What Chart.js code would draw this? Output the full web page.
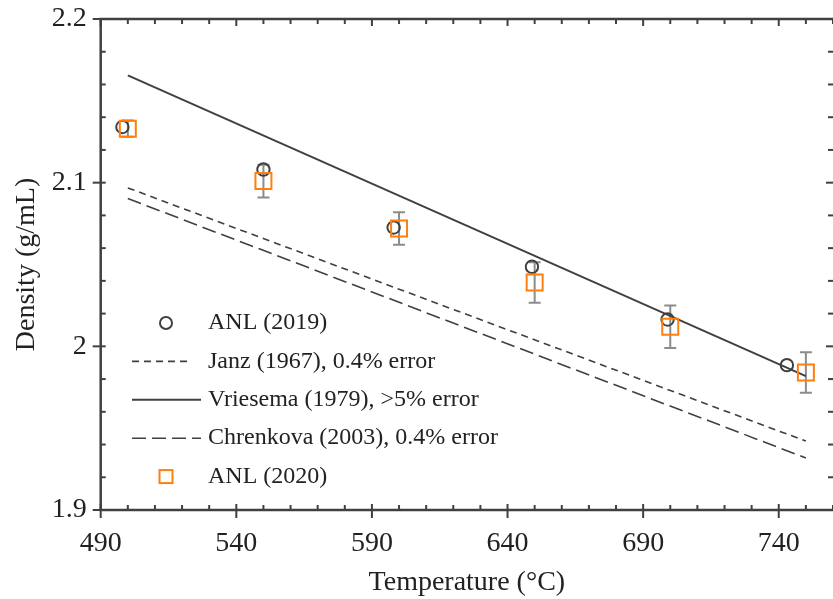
<!DOCTYPE html>
<html>
<head>
<meta charset="utf-8">
<script src="https://cdn.jsdelivr.net/npm/chart.js@4.4.0/dist/chart.umd.min.js"></script>
<style>
  html, body { margin: 0; padding: 0; background: #fff; overflow: hidden; }
  #wrap { width: 833px; height: 599px; }
  #densityChart { display: block; width: 833px; height: 599px; }
</style>
</head>
<body>
<div id="wrap"><canvas id="densityChart" width="833" height="599"></canvas></div>
<script>
// ANL (2019)
const anl2019Temp = [498, 550, 598, 649, 699, 743];
const anl2019Density = [2.134, 2.108, 2.0726, 2.0486, 2.0164, 1.9885];

// ANL (2020), mit Fehlerbalken
const anl2020Temp = [500, 550, 600, 650, 700, 750];
const anl2020Density = [2.133, 2.101, 2.072, 2.039, 2.012, 1.984];
const anl2020Error = [0.005, 0.010, 0.010, 0.0124, 0.013, 0.0124];

// Literatur-Korrelationen (Endpunkte)
const corrTemp = [500, 750];
const janzDensity = [2.0968, 1.9421];
const vriesemaDensity = [2.1656, 1.9818];
const chrenkovaDensity = [2.0903, 1.9318];

const xTicks = [490, 540, 590, 640, 690, 740];
const yTicks = [1.9, 2.0, 2.1, 2.2];

const fontFamily = "'Liberation Serif', 'Times New Roman', serif";
const axisColor = "#404040";
const textColor = "#222222";
const orange = "#ff7f0e";

function toPoints(xs, ys) {
    return xs.map((x, i) => ({ x: x, y: ys[i] }));
}

// Rahmen (ohne rechte Linie, die liegt außerhalb des Bildes) und Tick-Striche
const frameAndTicks = {
    id: "frameAndTicks",
    afterDraw(chart) {
        const { ctx, chartArea: a, scales: { x, y } } = chart;
        ctx.save();
        ctx.strokeStyle = axisColor;
        ctx.lineWidth = 2;
        const seg = (x1, y1, x2, y2) => {
            ctx.beginPath();
            ctx.moveTo(x1, y1);
            ctx.lineTo(x2, y2);
            ctx.stroke();
        };
        for (let v = 490; v <= 760; v += 10) {
            const px = x.getPixelForValue(v);
            const major = xTicks.includes(v);
            seg(px, a.bottom + (major ? 8 : 0), px, a.bottom - (major ? 6 : 5));
            seg(px, a.top, px, a.top + (major ? 7 : 5));
        }
        for (let i = 0; i <= 15; i++) {
            const v = 1.9 + i * 0.02;
            const py = y.getPixelForValue(v);
            const major = i % 5 === 0;
            seg(a.left - (major ? 8 : 0), py, a.left + 5, py);
            seg(a.right, py, a.right - (major ? 7 : 5), py);
        }
        ctx.lineWidth = 2.5;
        ctx.beginPath();
        ctx.moveTo(a.right + 2, a.top);
        ctx.lineTo(a.left, a.top);
        ctx.lineTo(a.left, a.bottom);
        ctx.lineTo(a.right + 2, a.bottom);
        ctx.stroke();
        ctx.restore();
    }
};

// Fehlerbalken für ANL (2020)
const errorBars = {
    id: "errorBars",
    beforeDatasetsDraw(chart) {
        const { ctx, scales: { x, y } } = chart;
        ctx.save();
        ctx.strokeStyle = "#8c8c8c";
        ctx.lineWidth = 2;
        anl2020Temp.forEach((t, i) => {
            const px = x.getPixelForValue(t);
            const top = y.getPixelForValue(anl2020Density[i] + anl2020Error[i]);
            const bot = y.getPixelForValue(anl2020Density[i] - anl2020Error[i]);
            ctx.beginPath();
            ctx.moveTo(px, top); ctx.lineTo(px, bot);
            ctx.moveTo(px - 6, top); ctx.lineTo(px + 6, top);
            ctx.moveTo(px - 6, bot); ctx.lineTo(px + 6, bot);
            ctx.stroke();
        });
        ctx.restore();
    }
};

// Legende innerhalb des Diagramms
const innerLegend = {
    id: "innerLegend",
    afterDraw(chart) {
        const { ctx } = chart;
        const items = [
            { text: "ANL (2019)", kind: "circle" },
            { text: "Janz (1967), 0.4% error", kind: "line", dash: [7, 5], len: 60, width: 1.6 },
            { text: "Vriesema (1979), >5% error", kind: "line", dash: [], len: 69, width: 2 },
            { text: "Chrenkova (2003), 0.4% error", kind: "line", dash: [14, 6], len: 69, width: 1.6 },
            { text: "ANL (2020)", kind: "rect" },
        ];
        ctx.save();
        ctx.font = "24px " + fontFamily;
        ctx.textBaseline = "middle";
        items.forEach((it, i) => {
            const cy = 323 + i * 38.4;
            if (it.kind === "circle") {
                ctx.strokeStyle = axisColor;
                ctx.lineWidth = 2;
                ctx.beginPath();
                ctx.arc(166, cy, 6, 0, Math.PI * 2);
                ctx.stroke();
            } else if (it.kind === "rect") {
                ctx.strokeStyle = orange;
                ctx.lineWidth = 2;
                ctx.strokeRect(159.5, cy - 6.5, 13, 13);
            } else {
                ctx.strokeStyle = axisColor;
                ctx.lineWidth = it.width;
                ctx.setLineDash(it.dash);
                ctx.beginPath();
                ctx.moveTo(132, cy);
                ctx.lineTo(132 + it.len, cy);
                ctx.stroke();
                ctx.setLineDash([]);
            }
            ctx.fillStyle = textColor;
            ctx.fillText(it.text, 208, cy);
        });
        ctx.restore();
    }
};

const ctx = document.getElementById("densityChart").getContext("2d");
const densityChart = new Chart(ctx, {
    type: "scatter",
    data: {
        datasets: [
            {
                label: "ANL (2020)",
                data: toPoints(anl2020Temp, anl2020Density),
                pointStyle: "rect",
                pointRadius: 11.3,
                borderColor: orange,
                backgroundColor: "rgba(0,0,0,0)",
                borderWidth: 2,
                order: 0,
            },
            {
                label: "ANL (2019)",
                data: toPoints(anl2019Temp, anl2019Density),
                pointStyle: "circle",
                pointRadius: 6.2,
                borderColor: axisColor,
                backgroundColor: "rgba(0,0,0,0)",
                borderWidth: 2,
                order: 1,
            },
            {
                label: "Janz (1967), 0.4% error",
                data: toPoints(corrTemp, janzDensity),
                showLine: true,
                pointRadius: 0,
                borderColor: axisColor,
                borderWidth: 1.6,
                borderDash: [7, 5],
                order: 2,
            },
            {
                label: "Vriesema (1979), >5% error",
                data: toPoints(corrTemp, vriesemaDensity),
                showLine: true,
                pointRadius: 0,
                borderColor: axisColor,
                borderWidth: 2,
                order: 2,
            },
            {
                label: "Chrenkova (2003), 0.4% error",
                data: toPoints(corrTemp, chrenkovaDensity),
                showLine: true,
                pointRadius: 0,
                borderColor: axisColor,
                borderWidth: 1.6,
                borderDash: [14, 6],
                order: 2,
            },
        ],
    },
    options: {
        responsive: false,
        animation: false,
        layout: { autoPadding: false, padding: { top: 19, right: 0, left: 0, bottom: 0 } },
        plugins: {
            legend: { display: false },
            tooltip: { enabled: false },
        },
        scales: {
            x: {
                type: "linear",
                min: 490,
                max: 760,
                afterBuildTicks: s => { s.ticks = xTicks.map(v => ({ value: v })); },
                afterFit: s => {
                    s.height = 89;
                    s.paddingLeft = 0;
                    s.paddingRight = 0;
                },
                grid: { display: false, drawTicks: false },
                border: { display: false },
                ticks: { font: { family: fontFamily, size: 28 }, color: textColor, padding: 17 },
                title: {
                    display: true,
                    text: "Temperature (°C)",
                    color: textColor,
                    font: { family: fontFamily, size: 28 },
                    padding: { top: 0, bottom: 0 },
                },
            },
            y: {
                min: 1.9,
                max: 2.2,
                afterBuildTicks: s => { s.ticks = yTicks.map(v => ({ value: v })); },
                afterFit: s => {
                    s.width = 100.7;
                    s.paddingTop = 0;
                    s.paddingBottom = 0;
                },
                grid: { display: false, drawTicks: false },
                border: { display: false },
                ticks: {
                    font: { family: fontFamily, size: 28 },
                    color: textColor,
                    padding: 14,
                    callback: v => String(Math.round(v * 10) / 10),
                },
                title: {
                    display: true,
                    text: "Density (g/mL)",
                    color: textColor,
                    font: { family: fontFamily, size: 28 },
                    padding: { top: 10, bottom: 0 },
                },
            },
        },
    },
    plugins: [errorBars, frameAndTicks, innerLegend],
});
</script>
</body>
</html>
